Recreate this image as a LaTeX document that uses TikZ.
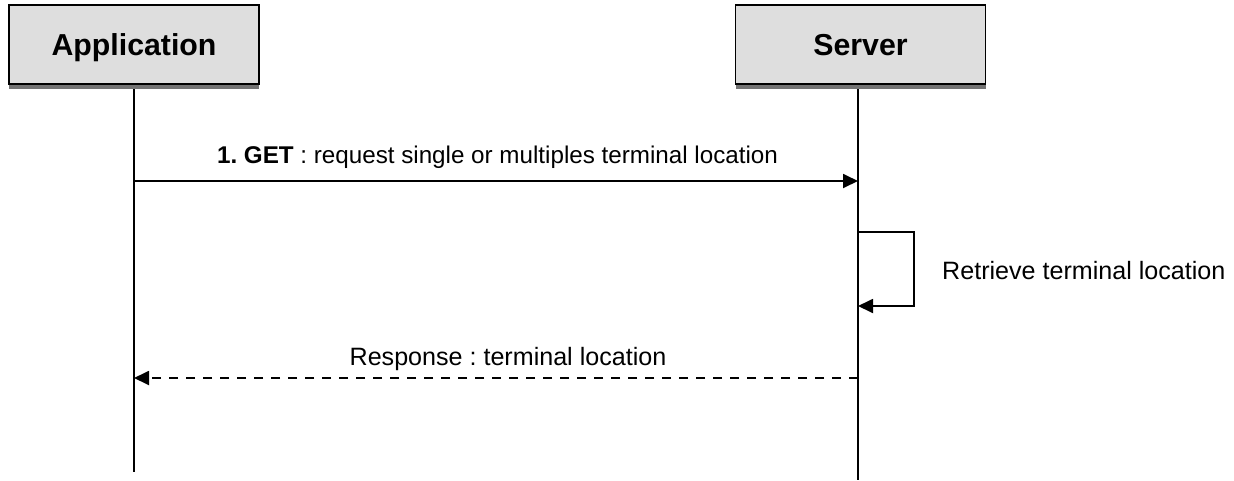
\documentclass[tikz,border=0pt]{standalone}
\usepackage{fontspec}
\setmainfont{Liberation Sans}
\usetikzlibrary{arrows.meta}
\begin{document}
\frenchspacing
\begin{tikzpicture}[x=1pt,y=-1pt,
  actor/.style={draw=black,line width=1.8pt,fill=black!13,minimum width=250pt,minimum height=79pt,inner sep=0pt,text height=22pt,text depth=1pt,font=\fontsize{30.3}{35}\selectfont\bfseries},
  shadowbar/.style={fill=black!55,draw=none},
  life/.style={line width=1.8pt},
  msg/.style={line width=1.8pt,-{Triangle[length=15pt,width=14pt]}},
  lbl/.style={font=\fontsize{25.1}{30}\selectfont,inner sep=0pt}]
\useasboundingbox (0,0) rectangle (1234,480);
% actors
\node[actor] (app) at (134,44.5) {Application};
\node[actor] (srv) at (860.5,44.5) {Server};
\fill[shadowbar] (9,84.5) rectangle (259,89);
\fill[shadowbar] (735.5,84.5) rectangle (985.5,89);
% lifelines
\coordinate (append) at (134,472);
\coordinate (srvend) at (858,480);
\draw[life] (134,89) -- (append);
\draw[life] (858,89) -- (srvend);
% message 1
\coordinate (a1) at (134,181);
\coordinate (s1) at (858,181);
\draw[msg] (a1) -- (s1);
\node[lbl,anchor=base,font=\fontsize{24.2}{29}\selectfont] (m1) at (497.5,163) {\textbf{1. GET} : request single or multiples terminal location};
% self loop
\coordinate (l1) at (858,232);
\coordinate (l2) at (858,306);
\draw[msg] (l1) -- (914,232) -- (914,306) -- (l2);
\node[lbl,anchor=base west] (m2) at (942,279.5) {Retrieve terminal location};
% response
\coordinate (s3) at (858,378);
\coordinate (a3) at (134,378);
\draw[msg,dash pattern=on 9pt off 8pt] (s3) -- (a3);
\node[lbl,anchor=base] (m3) at (508,365) {Response : terminal location};
\end{tikzpicture}
\end{document}
